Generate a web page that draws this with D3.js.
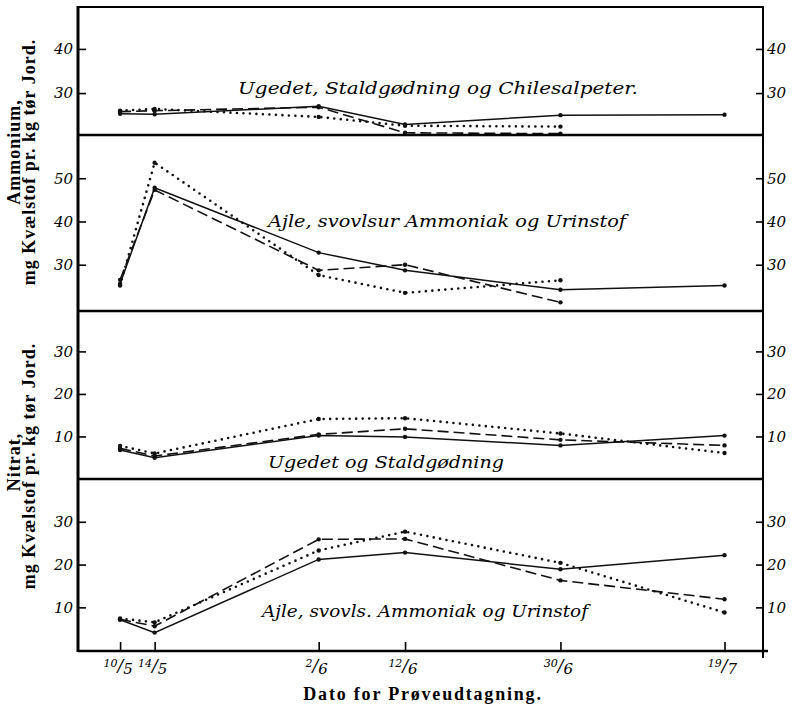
<!DOCTYPE html>
<html>
<head>
  <meta charset="UTF-8">
  <style>
    body { margin: 0; background: white; }
    svg { display: block; }
    .tick text { font-family: "DejaVu Serif", serif; font-style: italic; font-size: 15px; }
    .tick line { stroke: black; stroke-width: 1.6; }
    .series { fill: none; stroke: #111; }
    .solid { stroke-width: 1.5; }
    .dashed { stroke-width: 1.6; stroke-dasharray: 11,5; }
    .dotted { stroke-width: 2.6; stroke-dasharray: 0,6.5; stroke-linecap: round; }
    .panelLabel { font-family: "DejaVu Serif", serif; font-style: italic; font-size: 17px; }
    .yTitle { font-family: "Liberation Serif", serif; font-weight: bold; font-size: 18px; letter-spacing: 1px; }
    .xTitle { font-family: "Liberation Serif", serif; font-weight: bold; font-size: 18px; letter-spacing: 1.8px; }
    .xLabel { font-family: "DejaVu Serif", serif; font-style: italic; }
  </style>
</head>
<body>
<div id="chart"></div>
<script src="https://cdnjs.cloudflare.com/ajax/libs/d3/7.8.5/d3.min.js"></script>
<script>

// sampling dates
let sampleDates = ["1920-05-10", "1920-05-14", "1920-06-02", "1920-06-12", "1920-06-30", "1920-07-19"];
let dateLabels = [["10", "5"], ["14", "5"], ["2", "6"], ["12", "6"], ["30", "6"], ["19", "7"]];

// Ammonium - Ugedet, Staldgødning og Chilesalpeter
let amm1Solid  = [25.3, 25.2, 27.0, 22.9, 25.0, 25.1];
let amm1Dashed = [25.8, 26.0, 26.8, 21.0, 20.8, null];
let amm1Dotted = [26.0, 26.4, 24.6, 22.6, 22.4, null];

// Ammonium - Ajle, svovlsur Ammoniak og Urinstof
let amm2Solid  = [25.6, 47.8, 32.8, 28.7, 24.2, 25.2];
let amm2Dashed = [26.5, 47.3, 28.7, 30.0, 21.3, null];
let amm2Dotted = [25.2, 53.6, 27.6, 23.5, 26.4, null];

// Nitrat - Ugedet og Staldgødning
let nit1Solid  = [6.8, 5.0, 10.2, 9.9, 7.9, 10.2];
let nit1Dashed = [7.2, 5.4, 10.5, 11.8, 9.2, 7.9];
let nit1Dotted = [7.8, 6.0, 14.1, 14.3, 10.7, 6.1];

// Nitrat - Ajle, svovls. Ammoniak og Urinstof
let nit2Solid  = [7.1, 4.1, 21.2, 22.8, 18.9, 22.2];
let nit2Dashed = [7.2, 5.6, 25.9, 26.0, 16.3, 11.9];
let nit2Dotted = [7.4, 6.5, 23.3, 27.7, 20.4, 8.8];

let panelNames = ["Ugedet, Staldgødning og Chilesalpeter.", "Ajle, svovlsur  Ammoniak og Urinstof",
                  "Ugedet og Staldgødning", "Ajle, svovls. Ammoniak og Urinstof"];
let panelTicks = [[30, 40], [30, 40, 50], [10, 20, 30], [10, 20, 30]];

let width = 796, height = 709;
let left = 78, right = 763;

let parseDate = d3.timeParse("%Y-%m-%d");
let dates = sampleDates.map(parseDate);

let x = d3.scaleTime()
    .domain([new Date(1920, 4, 5, 3), new Date(1920, 6, 23, 11)])
    .range([left, right]);

let panels = [
  { top: 7,   bottom: 135, domain: [20.5, 49.5], series: [amm1Solid, amm1Dashed, amm1Dotted], lx: 438, ly: 94,  lw: 400 },
  { top: 135, bottom: 311, domain: [19.3, 60],   series: [amm2Solid, amm2Dashed, amm2Dotted], lx: 447, ly: 227, lw: 358 },
  { top: 311, bottom: 479, domain: [0, 39.5],    series: [nit1Solid, nit1Dashed, nit1Dotted], lx: 386, ly: 468, lw: 236 },
  { top: 479, bottom: 651, domain: [-0.2, 40],   series: [nit2Solid, nit2Dashed, nit2Dotted], lx: 425, ly: 617, lw: 326 }
];
let styles = ["solid", "dashed", "dotted"];

let svg = d3.select("#chart").append("svg")
    .attr("width", width)
    .attr("height", height);

panels.forEach((p, i) => {
    let y = d3.scaleLinear().domain(p.domain).range([p.bottom, p.top]);
    let g = svg.append("g").attr("class", "panel");

    g.append("g")
        .attr("transform", "translate(" + left + ",0)")
        .call(d3.axisLeft(y).tickValues(panelTicks[i]).tickSize(-8).tickPadding(5).tickFormat(d3.format("d")))
        .call(a => a.select(".domain").remove());

    g.append("g")
        .attr("transform", "translate(" + right + ",0)")
        .call(d3.axisRight(y).tickValues(panelTicks[i]).tickSize(-7).tickPadding(4).tickFormat(d3.format("d")))
        .call(a => a.select(".domain").remove());

    let line = d3.line()
        .defined(d => d[1] != null)
        .x(d => x(d[0]))
        .y(d => y(d[1]));

    p.series.forEach((vals, k) => {
        let pts = dates.map((d, j) => [d, vals[j]]);
        g.append("path")
            .datum(pts)
            .attr("class", "series " + styles[k])
            .attr("d", line);
        g.selectAll(null)
            .data(pts.filter(d => d[1] != null))
            .enter()
            .append("circle")
            .attr("cx", d => x(d[0]))
            .attr("cy", d => y(d[1]))
            .attr("r", 2.2)
            .attr("fill", "#111");
    });

    g.append("text")
        .attr("class", "panelLabel")
        .attr("x", p.lx)
        .attr("y", p.ly)
        .attr("text-anchor", "middle")
        .attr("textLength", p.lw)
        .attr("lengthAdjust", "spacingAndGlyphs")
        .text(panelNames[i]);

    // panel divider
    svg.append("line")
        .attr("x1", left).attr("x2", right + (i == 3 ? 5 : 0))
        .attr("y1", p.bottom).attr("y2", p.bottom)
        .attr("stroke", "black").attr("stroke-width", 2.4);
});

// frame
svg.append("line").attr("x1", left).attr("x2", right).attr("y1", 7).attr("y2", 7)
    .attr("stroke", "black").attr("stroke-width", 2);
svg.append("line").attr("x1", left).attr("x2", left).attr("y1", 6).attr("y2", 652)
    .attr("stroke", "black").attr("stroke-width", 3);
svg.append("line").attr("x1", right).attr("x2", right).attr("y1", 6).attr("y2", 658)
    .attr("stroke", "black").attr("stroke-width", 2);

// date axis
svg.append("g")
    .attr("transform", "translate(0,651)")
    .call(d3.axisBottom(x).tickValues(dates).tickSize(-9).tickFormat(""))
    .call(a => a.select(".domain").remove());

let xl = svg.append("g")
    .selectAll("text")
    .data(dates)
    .enter()
    .append("text")
    .attr("class", "xLabel")
    .attr("x", d => x(d) - 2)
    .attr("y", 671)
    .attr("text-anchor", "middle");
xl.append("tspan").attr("font-size", 11).attr("dy", -4).text((d, i) => dateLabels[i][0]);
xl.append("tspan").attr("font-size", 17).attr("dy", 4).text("/");
xl.append("tspan").attr("font-size", 15).attr("dy", 3).text((d, i) => dateLabels[i][1]);

svg.append("text")
    .attr("class", "xTitle")
    .attr("x", 423)
    .attr("y", 700)
    .attr("text-anchor", "middle")
    .text("Dato for Prøveudtagning.");

// y titles
let yTitles = [
    { cy: 152, cx: 20, txt: "Ammonium," },
    { cy: 162, cx: 35, txt: "mg Kvælstof pr. kg tør Jord." },
    { cy: 462, cx: 20, txt: "Nitrat," },
    { cy: 466, cx: 35, txt: "mg Kvælstof pr. kg tør Jord." }
];
svg.selectAll("text.yTitle")
    .data(yTitles)
    .enter()
    .append("text")
    .attr("class", "yTitle")
    .attr("text-anchor", "middle")
    .attr("transform", d => "translate(" + d.cx + "," + d.cy + ") rotate(-90)")
    .text(d => d.txt);

</script>
</body>
</html>
